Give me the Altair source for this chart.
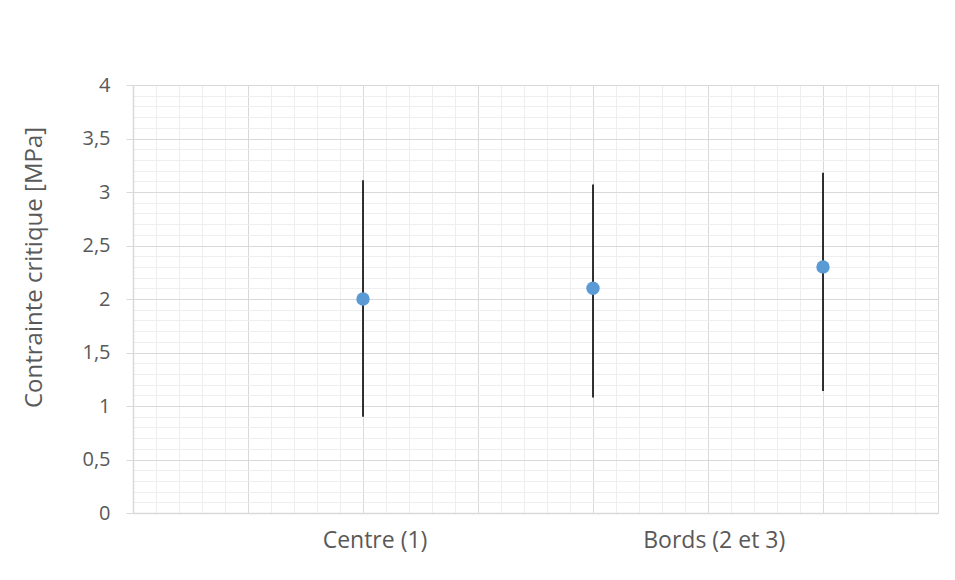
import altair as alt
import pandas as pd

# Data
x_pos = [2, 4, 6]
means = [2.0, 2.1, 2.3]
lows = [0.90, 1.08, 1.14]
highs = [3.11, 3.07, 3.18]

cat_labels = ["Centre (1)", "Bords (2 et 3)"]
cat_pos = [2.1, 5.05]

y_title = "Contrainte critique [MPa]"

df = pd.DataFrame({"x": x_pos, "mean": means, "low": lows, "high": highs})

FONT = "Open Sans"
TXT = "#595959"
MAJOR = "#d9d9d9"
MINOR = "#eeeeee"

x_vals = [round(i * 0.2, 1) for i in range(36)] + cat_pos
y_vals = [round(i * 0.1, 1) for i in range(41)]

label_test = " || ".join(f"datum.value === {p}" for p in cat_pos)
label_expr = "".join(f"datum.value === {p} ? '{t}' : " for p, t in zip(cat_pos, cat_labels)) + "''"
ymajor = "abs(datum.value*2 - round(datum.value*2)) < 1e-6"

x_scale = alt.Scale(domain=[0, 7], nice=False, zero=False)
y_scale = alt.Scale(domain=[0, 4], nice=False)

x_axis = alt.Axis(
    values=x_vals,
    tickCount=500,
    title=None,
    ticks=False,
    grid=True,
    gridColor={"condition": {"test": "datum.value % 1 === 0", "value": MAJOR}, "value": MINOR},
    gridOpacity={"condition": {"test": label_test, "value": 0}, "value": 1},
    gridWidth=1,
    labelExpr=label_expr,
    labelOverlap=False,
    labelFlush=False,
    labelFont=FONT,
    labelFontSize=23,
    labelColor=TXT,
    labelPadding=16,
    domainColor=MAJOR,
    domainWidth=1.5,
)

y_axis = alt.Axis(
    values=y_vals,
    tickCount=500,
    title=y_title,
    titleFont=FONT,
    titleFontSize=24,
    titleFontWeight="normal",
    titleColor=TXT,
    titleAngle=-90,
    titleX=-99,
    titleY=182,
    titleAlign="center",
    titleBaseline="middle",
    grid=True,
    gridColor={"condition": {"test": ymajor, "value": MAJOR}, "value": MINOR},
    gridWidth=1,
    ticks=True,
    tickSize=7,
    tickColor=MAJOR,
    tickOpacity={"condition": {"test": ymajor, "value": 1}, "value": 0},
    labelExpr=f"{ymajor} ? replace(format(datum.value, '~g'), '.', ',') : ''",
    labelOverlap=False,
    labelFlush=False,
    labelFont=FONT,
    labelFontSize=20,
    labelColor=TXT,
    labelPadding=16,
    domainColor=MAJOR,
    domainWidth=1.5,
)

base = alt.Chart(df)

bars = base.mark_rule(color="black", strokeWidth=1.6).encode(
    x=alt.X("x:Q", scale=x_scale, axis=x_axis),
    y=alt.Y("low:Q", scale=y_scale, axis=y_axis),
    y2="high:Q",
)

points = base.mark_circle(size=180, color="#5b9bd5", opacity=1).encode(
    x=alt.X("x:Q", scale=x_scale),
    y=alt.Y("mean:Q", scale=y_scale),
)

chart = (
    alt.layer(bars, points)
    .properties(
        width=805,
        height=428,
        autosize=alt.AutoSizeParams(type="none"),
        padding={"left": 125, "top": 77, "right": 9, "bottom": 55},
    )
    .configure_view(stroke=None)
    .configure(background="white")
)

chart.save("out.html", embed_options={"renderer": "svg", "actions": False})
